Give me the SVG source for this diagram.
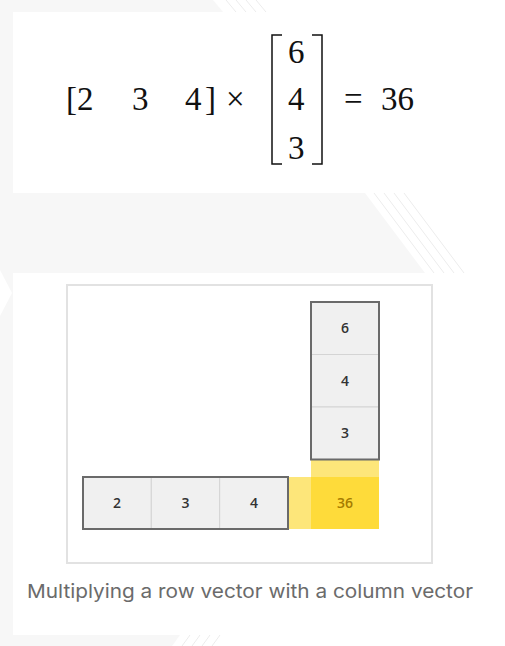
<svg xmlns="http://www.w3.org/2000/svg" width="505" height="646" viewBox="0 0 505 646">
  <style>
    .bg { fill: #f7f7f7; }
    .stripe { stroke: #ececec; stroke-width: 1; fill: none; }
    .math { font-family: "Liberation Serif", "DejaVu Serif", serif; font-size: 33px; fill: #111; }
    .cell { fill: #f0f0f0; stroke: #d4d4d4; stroke-width: 1; }
    .outline { fill: none; stroke: #6a6a6a; stroke-width: 2; }
    .lbl { font-family: "Open Sans", "Liberation Sans", sans-serif; font-size: 14px; font-weight: 600; fill: #333; text-anchor: middle; }
    .br { fill: none; stroke: #111; stroke-width: 1.5; }
  </style>
  <rect width="505" height="646" fill="#ffffff"/>
  <!-- background decoration -->
  <g id="background">
    <rect class="bg" x="0" y="0" width="13" height="646"/>
    <polygon class="bg" points="0,0 213,0 223,12 0,12"/>
    <polygon class="bg" points="13,193 365,193 425,273 13,273"/>
    <polygon class="bg" points="13,635 180,635 172,646 13,646"/>
    <polygon fill="#ffffff" points="0,270 12,293 0,316"/>
    <path class="stripe" d="M226,0 L236,12 M236,0 L246,12 M246,0 L256,12 M256,0 L266,12"/>
    <path class="stripe" d="M374,193 L434,273 M384,193 L444,273 M394,193 L454,273 M404,193 L464,273"/>
    <path class="stripe" d="M190,635 L182,646 M200,635 L192,646 M210,635 L202,646 M220,635 L212,646"/>
  </g>
  <!-- equation -->
  <g id="equation">
    <text class="math" x="66" y="110">[</text>
    <text class="math" x="77" y="110">2</text>
    <text class="math" x="132" y="110">3</text>
    <text class="math" x="185" y="110">4</text>
    <text class="math" x="205" y="110">]</text>
    <text class="math" x="226" y="110">×</text>
    <path class="br" d="M282,35 L272,35 L272,164 L282,164"/>
    <path class="br" d="M312,35 L322,35 L322,164 L312,164"/>
    <text class="math" x="288" y="63">6</text>
    <text class="math" x="288" y="110">4</text>
    <text class="math" x="288" y="159">3</text>
    <text class="math" x="344" y="110">=</text>
    <text class="math" x="381" y="110">36</text>
  </g>
  <!-- diagram frame -->
  <rect id="frame" x="67" y="285" width="365" height="278" fill="#ffffff" stroke="#e2e2e2" stroke-width="2"/>
  <!-- highlight -->
  <g id="highlight">
    <rect x="311" y="460" width="68" height="17" fill="#fde67a"/>
    <rect x="288" y="477" width="23" height="52" fill="#fde67a"/>
    <rect x="311" y="477" width="68" height="52" fill="#fedb3a"/>
    <text class="lbl" x="345" y="508" style="fill:#a67c00">36</text>
  </g>
  <!-- column vector -->
  <g id="column-vector">
    <rect class="cell" x="311" y="302" width="68" height="52.5"/>
    <rect class="cell" x="311" y="354.5" width="68" height="52.5"/>
    <rect class="cell" x="311" y="407" width="68" height="52.5"/>
    <rect class="outline" x="311" y="302" width="68" height="157.5"/>
    <text class="lbl" x="345" y="333">6</text>
    <text class="lbl" x="345" y="386">4</text>
    <text class="lbl" x="345" y="438">3</text>
  </g>
  <!-- row vector -->
  <g id="row-vector">
    <rect class="cell" x="83" y="477" width="68.3" height="52"/>
    <rect class="cell" x="151.3" y="477" width="68.4" height="52"/>
    <rect class="cell" x="219.7" y="477" width="68.3" height="52"/>
    <rect class="outline" x="83" y="477" width="205" height="52"/>
    <text class="lbl" x="117" y="508">2</text>
    <text class="lbl" x="185.5" y="508">3</text>
    <text class="lbl" x="254" y="508">4</text>
  </g>
  <g id="connectors"/>
  <text id="caption" x="27" y="598" font-family="Inter, 'Liberation Sans', sans-serif" font-size="19" fill="#6b6b6b" textLength="446" lengthAdjust="spacingAndGlyphs">Multiplying a row vector with a column vector</text>
</svg>
